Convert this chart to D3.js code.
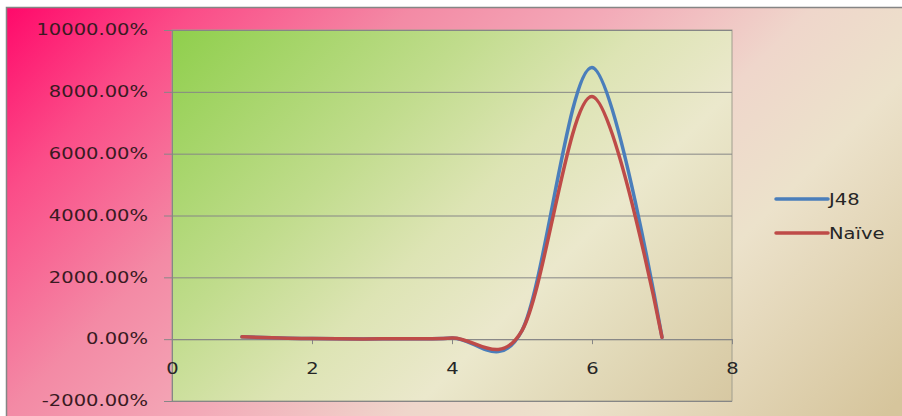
<!DOCTYPE html>
<html>
<head>
<meta charset="utf-8">
<script src="https://cdn.jsdelivr.net/npm/d3@7"></script>
<style>
  body { margin: 0; background: #fff; }
  #graph { width: 902px; height: 416px; }
  text { font-family: "DejaVu Sans", sans-serif; font-size: 16px; }
</style>
</head>
<body>
<div id="graph"></div>
<script>
var xValues = [1, 2, 3, 4, 5, 6, 7];
var j48 = [75, 20, 10, 40, 280, 8790, 60];
var naive = [75, 20, 10, 40, 280, 7850, 60];
var seriesNames = ["J48", "Naïve"];
var seriesColors = ["#4a7ebb", "#be4b48"];
var xTicks = [0, 2, 4, 6, 8];
var yTicks = [-2000, 0, 2000, 4000, 6000, 8000, 10000];

var width = 902, height = 416;
var margin = { top: 30, left: 172, bottom: 15, right: 170 };
var chartWidth = 732 - margin.left;
var chartHeight = 401 - margin.top;
var stretch = "scale(1.22,1)";

var svg = d3.select("#graph").append("svg").attr("width", width).attr("height", height);
var defs = svg.append("defs");

function gradient(id, len, stops) {
  var g = defs.append("linearGradient").attr("id", id)
    .attr("gradientUnits", "userSpaceOnUse")
    .attr("x1", 0).attr("y1", 0).attr("x2", len).attr("y2", len);
  stops.forEach(function(s) {
    g.append("stop").attr("offset", s[0] / (2 * len)).attr("stop-color", s[1]);
  });
}

gradient("bg", 650, [[0, "#ff0468"], [200, "#fb4c88"], [420, "#f38aa5"], [615, "#f3aab8"],
  [820, "#efd6cb"], [980, "#ece2cb"], [1300, "#d6c59c"]]);
gradient("plot", 465, [[0, "#8fcf4c"], [300, "#c0dc8c"], [470, "#dde4b4"], [620, "#ebe8cc"], [930, "#d7c8a2"]]);

svg.append("rect").attr("x", 6.5).attr("y", 7.5).attr("width", width).attr("height", height)
  .attr("fill", "url(#bg)").attr("stroke", "#858585").attr("stroke-width", 1.5);

var chartLayer = svg.append("g").attr("transform", "translate(" + [margin.left, margin.top] + ")");

var xScale = d3.scaleLinear().domain([0, 8]).range([0, chartWidth]);
var yScale = d3.scaleLinear().domain([-2000, 10000]).range([chartHeight, 0]);

chartLayer.append("rect").attr("width", chartWidth).attr("height", chartHeight)
  .attr("fill", "url(#plot)").attr("stroke", "#a09e8e").attr("stroke-width", 1);

// gridlines + y axis
var yAxis = chartLayer.append("g").attr("class", "axis y")
  .call(d3.axisLeft(yScale).tickValues(yTicks).tickSizeInner(-chartWidth).tickSizeOuter(0)
    .tickFormat(function(d) { return d.toFixed(2) + "%"; }));
yAxis.select(".domain").attr("stroke", "#868686");
yAxis.selectAll(".tick line").attr("stroke", "#868686").attr("x1", -8);
yAxis.selectAll(".tick text").attr("x", 0).attr("dy", "0.3em")
  .attr("transform", "translate(-24,0) " + stretch)
  .attr("fill", "#3a1a22").attr("font-size", null).attr("font-family", null);

// x axis at zero
var xAxis = chartLayer.append("g").attr("class", "axis x")
  .attr("transform", "translate(0," + yScale(0) + ")")
  .call(d3.axisBottom(xScale).tickValues(xTicks).tickSizeInner(5).tickSizeOuter(0));
xAxis.select(".domain").attr("stroke", "#868686");
xAxis.selectAll(".tick line").attr("stroke", "#868686");
xAxis.selectAll(".tick text").attr("y", 0)
  .attr("transform", "translate(0,23) " + stretch)
  .attr("fill", "#262626").attr("font-size", null).attr("font-family", null);

var line = d3.line()
  .x(function(d) { return xScale(d[0]); })
  .y(function(d) { return yScale(d[1]); })
  .curve(d3.curveCardinal.tension(0.03));

[j48, naive].forEach(function(s, i) {
  chartLayer.append("path")
    .datum(xValues.map(function(x, k) { return [x, s[k]]; }))
    .attr("fill", "none")
    .attr("stroke", seriesColors[i])
    .attr("stroke-width", 3.5)
    .attr("stroke-linecap", "round")
    .attr("d", line);
});

// legend
var legend = svg.append("g").attr("transform", "translate(776,199)");
seriesNames.forEach(function(name, i) {
  var g = legend.append("g").attr("transform", "translate(0," + i * 34 + ")");
  g.append("line").attr("x1", 0).attr("x2", 52).attr("stroke", seriesColors[i])
    .attr("stroke-width", 3.5).attr("stroke-linecap", "round");
  g.append("text").attr("dy", "0.36em").attr("fill", "#262626")
    .attr("transform", "translate(53,0) " + stretch).text(name);
});
</script>
</body>
</html>
